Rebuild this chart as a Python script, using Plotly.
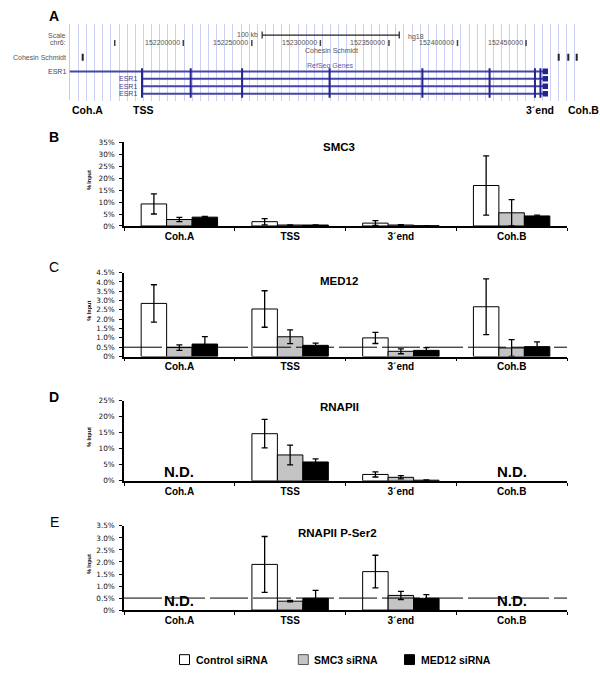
import plotly.graph_objects as go

W, H = 600, 673
FONT = "Liberation Sans, Arial, sans-serif"

# ---------------- data ----------------
categories = ["Coh.A", "TSS", "3´end", "Coh.B"]
series_names = ["Control siRNA", "SMC3 siRNA", "MED12 siRNA"]

# Panel B: SMC3 (% input)
smc3_ctrl = [9.2, 1.8, 1.2, 16.9]
smc3_ctrl_err = [4.2, 1.3, 1.0, 12.4]
smc3_smc3 = [2.7, 0.4, 0.4, 5.5]
smc3_smc3_err = [0.9, 0.1, 0.2, 5.5]
smc3_med12 = [3.7, 0.4, 0.1, 4.2]
smc3_med12_err = [0.3, 0.1, 0.05, 0.3]

# Panel C: MED12
med12_ctrl = [2.85, 2.55, 1.0, 2.67]
med12_ctrl_err = [1.0, 0.98, 0.3, 1.5]
med12_smc3 = [0.48, 1.06, 0.28, 0.46]
med12_smc3_err = [0.15, 0.37, 0.13, 0.45]
med12_med12 = [0.67, 0.6, 0.33, 0.53]
med12_med12_err = [0.4, 0.12, 0.15, 0.26]

# Panel D: RNAPII (None = not determined)
pol_ctrl = [None, 14.75, 2.0, None]
pol_ctrl_err = [None, 4.45, 0.8, None]
pol_smc3 = [None, 8.1, 1.1, None]
pol_smc3_err = [None, 3.1, 0.5, None]
pol_med12 = [None, 5.9, 0.2, None]
pol_med12_err = [None, 1.0, 0.1, None]

# Panel E: RNAPII P-Ser2
ser2_ctrl = [None, 1.9, 1.6, None]
ser2_ctrl_err = [None, 1.16, 0.68, None]
ser2_smc3 = [None, 0.37, 0.61, None]
ser2_smc3_err = [None, 0.03, 0.17, None]
ser2_med12 = [None, 0.49, 0.49, None]
ser2_med12_err = [None, 0.33, 0.15, None]

# y-axis tick labels
ticks_B = [0, 5, 10, 15, 20, 25, 30, 35]
ticks_C = [0, 0.5, 1.0, 1.5, 2.0, 2.5, 3.0, 3.5, 4.0, 4.5]
ticks_D = [0, 5, 10, 15, 20, 25]
ticks_E = [0, 0.5, 1.0, 1.5, 2.0, 2.5, 3.0, 3.5]
threshold = 0.5

# Panel A: genome browser (hg18 chr6 coordinates)
view_start, view_end = 152116850, 152491980
ruler_ticks = [152150000, 152200000, 152250000, 152300000, 152350000, 152400000, 152450000]
ruler_labels = ["", "152200000", "152250000", "152300000", "152350000", "152400000", "152450000"]
scale_bar = [152257500, 152357500]
cohesin_sites = [152126623, 152473815, 152480817, 152486944]
esr1_tx_starts = [152100000, 152169600, 152169600, 152169600]
esr1_tx_end = 152466010
esr1_exons = [152169900, 152205400, 152242900, 152306700, 152374400, 152423400, 152456500, 152460500]
esr1_last_exon = [152462144, 152466010]

# ---------------- helpers ----------------
def px(x):
    return x / W

def py(y):
    return 1 - y / H

fig = go.Figure()

fill_colors = ["white", "#c4c4c4", "black"]

panels = [
    dict(ax="", title="SMC3", letter="B", lbold=True, top=140.0, bot=225.0, rng=35, ticks=ticks_B,
         data=[(smc3_ctrl, smc3_ctrl_err), (smc3_smc3, smc3_smc3_err), (smc3_med12, smc3_med12_err)],
         dashed=False, nd=[], ty=145, tx=320.5, ly=135),
    dict(ax="2", title="MED12", letter="C", lbold=False, top=272.3, bot=357.3, rng=4.5, ticks=ticks_C,
         data=[(med12_ctrl, med12_ctrl_err), (med12_smc3, med12_smc3_err), (med12_med12, med12_med12_err)],
         dashed=True, nd=[], ty=281, tx=318, ly=267),
    dict(ax="3", title="RNAPII", letter="D", lbold=True, top=402.3, bot=483.3, rng=25, ticks=ticks_D,
         data=[(pol_ctrl, pol_ctrl_err), (pol_smc3, pol_smc3_err), (pol_med12, pol_med12_err)],
         dashed=False, nd=["Coh.A", "Coh.B"], ty=408, tx=318, ly=398),
    dict(ax="4", title="RNAPII P-Ser2", letter="E", lbold=False, top=529.0, bot=614.3, rng=3.5, ticks=ticks_E,
         data=[(ser2_ctrl, ser2_ctrl_err), (ser2_smc3, ser2_smc3_err), (ser2_med12, ser2_med12_err)],
         dashed=True, nd=["Coh.A", "Coh.B"], ty=536, tx=296, ly=525),
]

def tick_text(v, step):
    if v == 0:
        return "0%"
    if step < 1:
        return f"{v:.1f}%"
    return f"{int(v)}%"

annotations = []
shapes = []
layout_axes = {}

XL, XR = 124, 567
for p in panels:
    a = p["ax"]
    xname, yname = "x" + a, "y" + a
    for (vals, errs), name, col in zip(p["data"], series_names, fill_colors):
        fig.add_trace(go.Bar(
            x=categories, y=vals, name=name, xaxis=xname, yaxis=yname,
            marker=dict(color=col, line=dict(color="black", width=1)),
            error_y=dict(type="data", array=errs, color="black", thickness=1.3, width=3),
            showlegend=False,
        ))
    step = p["ticks"][1] - p["ticks"][0]
    layout_axes["xaxis" + a] = dict(
        domain=[px(XL), px(XR)], anchor=yname, type="category",
        categoryorder="array", categoryarray=categories,
        showline=True, linecolor="black", linewidth=1.5, ticks="outside", tickson="boundaries",
        ticklen=3, tickcolor="black", tickwidth=1, showgrid=False, zeroline=False,
        tickfont=dict(family=FONT, size=10, color="black", weight="bold"),
    )
    layout_axes["yaxis" + a] = dict(
        domain=[py(p["bot"]), py(p["top"])], anchor=xname, range=[0, p["rng"]],
        showline=True, linecolor="black", linewidth=1.5, ticks="outside", ticklen=3,
        tickcolor="black", tickwidth=1, showgrid=False, zeroline=False,
        tickvals=p["ticks"], ticktext=[tick_text(v, step) for v in p["ticks"]],
        tickfont=dict(family="DejaVu Sans, sans-serif", size=7.3, color="#111"), ticklabelstandoff=3,
    )
    if p["dashed"]:
        shapes.append(dict(type="line", xref=xname + " domain", yref=yname, x0=0, x1=1,
                           y0=threshold, y1=threshold, layer="above",
                           line=dict(color="black", width=1, dash="38px,5px")))
    for c in p["nd"]:
        annotations.append(dict(xref=xname, yref=yname, x=c, y=0, yanchor="bottom", yshift=-1,
                                text="N.D.", showarrow=False,
                                font=dict(family=FONT, size=15, color="black", weight="bold")))
    annotations.append(dict(xref="paper", yref="paper", x=px(p["tx"]), y=py(p["ty"]),
                            xanchor="left", yanchor="middle", text=p["title"], showarrow=False,
                            font=dict(family=FONT, size=11.5, color="black", weight="bold")))
    annotations.append(dict(xref="paper", yref="paper", x=px(54), y=py(p["ly"]),
                            xanchor="center", yanchor="middle", text=p["letter"], showarrow=False,
                            font=dict(family=FONT, size=14, color="black",
                                      weight="bold" if p["lbold"] else "normal")))
    annotations.append(dict(xref="paper", yref="paper", x=px(89), y=py((p["top"] + p["bot"]) / 2 - 4),
                            xanchor="center", yanchor="middle", text="% Input", textangle=-90,
                            showarrow=False,
                            font=dict(family=FONT, size=5.5, color="black", weight="bold")))

# ---------------- Panel A ----------------
A_TOP, A_BOT = 20, 98
layout_axes["xaxis5"] = dict(
    domain=[px(69.3), px(583.6)], anchor="y5", range=[view_start, view_end],
    showgrid=True, gridcolor="#ccd0f2", gridwidth=1, tick0=152123413, dtick=5937,
    showticklabels=False, ticks="", showline=False, zeroline=False,
)
layout_axes["yaxis5"] = dict(
    domain=[py(A_BOT), py(A_TOP)], anchor="x5", range=[A_BOT, A_TOP],
    visible=False, showgrid=False, zeroline=False,
)

navy = "#24248f"
row_y = [68.3, 75.7, 83.3, 91.0]

# transcripts
for s, yy in zip(esr1_tx_starts, row_y):
    fig.add_trace(go.Scatter(x=[max(s, view_start), esr1_tx_end], y=[yy, yy], mode="lines",
                             xaxis="x5", yaxis="y5", showlegend=False, hoverinfo="skip",
                             line=dict(color="#4444aa", width=2)))
# exons
ex_x, ex_y = [], []
for e in esr1_exons:
    ex_x += [e, e, None]
    ex_y += [65, 95, None]
fig.add_trace(go.Scatter(x=ex_x, y=ex_y, mode="lines", xaxis="x5", yaxis="y5", showlegend=False,
                         hoverinfo="skip", line=dict(color=navy, width=2)))
for yy in row_y:
    shapes.append(dict(type="rect", xref="x5", yref="y5", x0=esr1_last_exon[0], x1=esr1_last_exon[1],
                       y0=yy - 2.8, y1=yy + 2.8, fillcolor=navy, line=dict(width=0)))
# cohesin sites
fig.add_trace(go.Scatter(x=cohesin_sites, y=[54] * len(cohesin_sites), mode="markers",
                         xaxis="x5", yaxis="y5", showlegend=False, hoverinfo="skip",
                         marker=dict(symbol="line-ns", size=5, line=dict(color="#222", width=2))))
# ruler ticks
rt_x, rt_y = [], []
for t in ruler_ticks:
    rt_x += [t, t, None]
    rt_y += [36.5, 42.5, None]
fig.add_trace(go.Scatter(x=rt_x, y=rt_y, mode="lines", xaxis="x5", yaxis="y5", showlegend=False,
                         hoverinfo="skip", line=dict(color="#444", width=1.5)))
for t, lab in zip(ruler_ticks, ruler_labels):
    if lab:
        annotations.append(dict(xref="x5", yref="y5", x=t, y=39.5, xanchor="right", yanchor="middle",
                                xshift=-1.5, text=lab, showarrow=False,
                                font=dict(family=FONT, size=7, color="#555")))
# scale bar
fig.add_trace(go.Scatter(x=[scale_bar[0], scale_bar[0], None, scale_bar[0], scale_bar[1], None,
                            scale_bar[1], scale_bar[1]],
                         y=[28, 35, None, 31.5, 31.5, None, 28, 35], mode="lines",
                         xaxis="x5", yaxis="y5", showlegend=False, hoverinfo="skip",
                         line=dict(color="#222", width=1.2)))
annotations.append(dict(xref="x5", yref="y5", x=scale_bar[0], y=31, xanchor="right", yanchor="middle",
                        xshift=-2, text="100 kb", showarrow=False,
                        font=dict(family=FONT, size=7, color="#555")))
annotations.append(dict(xref="x5", yref="y5", x=scale_bar[1], y=33, xanchor="left", yanchor="middle",
                        xshift=7, text="hg18", showarrow=False,
                        font=dict(family=FONT, size=7, color="#555")))
# red left line
shapes.append(dict(type="line", xref="x5", yref="y5", x0=view_start, x1=view_start, y0=A_TOP, y1=A_BOT - 1,
                   line=dict(color="#f09a90", width=1.2)))

def small(text, x, y, anchor="right", color="#555"):
    annotations.append(dict(xref="paper", yref="paper", x=px(x), y=py(y), xanchor=anchor,
                            yanchor="middle", text=text, showarrow=False,
                            font=dict(family=FONT, size=7, color=color)))

small("Scale", 67.5, 32)
small("chr6:", 67.5, 39.5)
small("Cohesin Schmidt", 67.5, 54)
small("Cohesin Schmidt", 331, 47, anchor="center")
small("RefSeq Genes", 330, 62.5, anchor="center", color="#5858b0")
small("ESR1", 67.5, 68, color="#3a3a9a")
for yy in row_y[1:]:
    small("ESR1", 138.5, yy, color="#3a3a9a")

for text, x, anc in [("Coh.A", 70, "left"), ("TSS", 143, "center"), ("3´end", 539.5, "center"),
                     ("Coh.B", 583, "center")]:
    annotations.append(dict(xref="paper", yref="paper", x=px(x), y=py(107.5), xanchor=anc,
                            yanchor="middle", text=text, showarrow=False,
                            font=dict(family=FONT, size=10.5, color="black", weight="bold")))
annotations.append(dict(xref="paper", yref="paper", x=px(53.5), y=py(12.5), xanchor="center",
                        yanchor="middle", text="A", showarrow=False,
                        font=dict(family=FONT, size=14, color="black", weight="bold")))

# ---------------- legend ----------------
leg_items = [(179.5, "white"), (298.3, "#c4c4c4"), (404.5, "black")]
for (x0, col), name in zip(leg_items, series_names):
    shapes.append(dict(type="rect", xref="paper", yref="paper", x0=px(x0), x1=px(x0 + 10),
                       y0=py(669.5), y1=py(659.5), fillcolor=col,
                       line=dict(color="black" if col != "#c4c4c4" else "#555", width=1)))
    annotations.append(dict(xref="paper", yref="paper", x=px(x0 + 14), y=py(664.5), xanchor="left",
                            yanchor="middle", text=name, showarrow=False,
                            font=dict(family=FONT, size=10.5, color="black", weight="bold")))

fig.update_layout(
    width=W, height=H, margin=dict(l=0, r=0, t=0, b=0), autosize=False,
    paper_bgcolor="white", plot_bgcolor="white",
    barmode="group", bargap=0.31, bargroupgap=0,
    showlegend=False, annotations=annotations, shapes=shapes,
    **layout_axes,
)

fig.write_html("out.html", config={"displayModeBar": False},
               post_script="document.body.style.margin='0';document.body.style.overflow='hidden';")
